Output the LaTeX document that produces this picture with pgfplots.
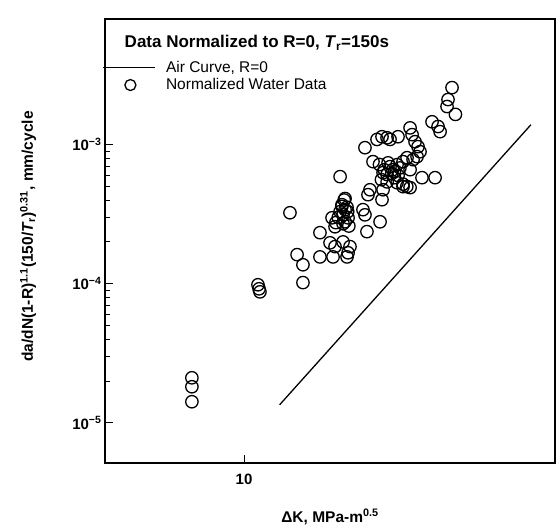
\documentclass[border=0pt]{standalone}
\usepackage{pgfplots}
\pgfplotsset{compat=1.18}
\usepackage{fontspec}
\setmainfont{Liberation Sans}
\begin{document}
\begin{tikzpicture}
\useasboundingbox (-105pt,-66pt) rectangle (454pt,463pt);
\begin{axis}[
  at={(0pt,0pt)}, anchor=south west,
  scale only axis, width=450pt, height=444pt,
  xmode=log, ymode=log,
  xmin=4.91, xmax=49.1, ymin=5.15e-6, ymax=8e-3,
  xtick={10}, xticklabels={\textbf{10}},
  ytick={1e-5,1e-4,1e-3},
  yticklabels={\textbf{10\textsuperscript{−5}},\textbf{10\textsuperscript{−4}},\textbf{10\textsuperscript{−3}}},
  tick pos=left, tick align=inside,
  major tick length=8pt, minor tick length=5pt,
  every tick/.style={black, line width=1pt},
  axis line style={line width=1.6pt},
  ticklabel style={font=\fontsize{15}{17}\selectfont},
  xticklabel style={yshift=-7pt},
  xlabel={\textbf{ΔK, MPa-m\textsuperscript{0.5}}},
  ylabel={\textbf{da/dN(1-R)\textsuperscript{1.1}(150/\textit{T}\textsubscript{r})\textsuperscript{0.31}, mm/cycle}},
  xlabel style={font=\fontsize{15.5}{17}\selectfont, at={(axis description cs:0.5,-0.1216)}, anchor=center},
  ylabel style={font=\fontsize{15.5}{17}\selectfont, at={(axis description cs:-0.171,0.51)}, anchor=center},
  legend style={draw=none, fill=none, at={(axis description cs:-0.012,0.915)}, anchor=north west,
    font=\fontsize{15.5}{17}\selectfont, row sep=1pt},
  legend cell align=left,
]
\addplot[black, line width=1.3pt,
  legend image code/.code={\draw[line width=1.2pt] (0pt,0pt) -- (52pt,0pt);}]
  coordinates {(12.0,1.35e-5) (43.4,1.39e-3)};
\addlegendentry{Air Curve, R=0}
\addplot[only marks, mark=o, mark size=6.2pt, black, line width=1.3pt,
  legend image code/.code={\draw[line width=1.3pt] (27pt,0pt) circle (5.5pt); \path (60pt,0pt);}]
  coordinates {
  (28.99,2.57e-3) (28.40,2.11e-3) (28.26,1.88e-3) (29.5,1.65e-3)
  (26.17,1.46e-3) (26.99,1.35e-3) (27.27,1.24e-3)
  (23.39,1.32e-3)
  (20.26,1.14e-3) (20.79,1.12e-3) (19.75,1.09e-3) (21.11,1.09e-3) (21.99,1.14e-3)
  (18.57,9.51e-4)
  (23.63,1.18e-3) (23.99,1.05e-3) (24.36,9.67e-4) (24.61,8.90e-4) (24.24,8.20e-4) (23.75,7.80e-4)
  (19.35,7.55e-4)
  (16.35,5.89e-4)
  (20.37,6.29e-4) (21.11,6.95e-4) (21.88,7.18e-4) (22.56,7.55e-4) (23.03,8.06e-4)
  (20.79,6.1e-4) (21.4,6.6e-4) (22.2,6.8e-4) (21.6,5.79e-4)
  (20.0,7.2e-4) (20.5,6.6e-4) (20.9,7.4e-4) (21.3,6.2e-4) (20.2,5.6e-4) (20.8,5.4e-4) (21.6,6.4e-4) (22.0,6.0e-4)
  (23.39,6.61e-4)
  (24.86,5.79e-4) (26.58,5.79e-4)
  (21.88,5.33e-4) (22.56,4.99e-4) (23.39,4.91e-4) (22.56,5.2e-4) (23.0,5.0e-4)
  (19.05,4.74e-4) (18.86,4.37e-4)
  (20.26,4.02e-4) (20.37,4.74e-4)
  (12.65,3.24e-4)
  (16.51,3.70e-4) (16.77,3.41e-4) (16.60,3.13e-4) (17.03,2.98e-4) (16.77,2.79e-4)
  (16.35,3.3e-4) (16.94,3.55e-4) (16.7,4.0e-4)
  (16.77,4.1e-4) (16.5,3.6e-4) (17.0,3.3e-4) (16.2,3.0e-4) (16.6,2.7e-4) (17.1,2.6e-4) (16.0,2.75e-4)
  (15.69,2.98e-4) (15.93,2.57e-4)
  (18.38,3.41e-4) (18.57,3.13e-4)
  (20.06,2.79e-4)
  (18.76,2.37e-4)
  (14.75,2.33e-4)
  (15.53,1.97e-4) (15.93,1.85e-4) (16.60,2.00e-4)
  (17.20,1.85e-4) (17.03,1.67e-4)
  (13.12,1.62e-4) (13.52,1.37e-4)
  (14.75,1.56e-4) (15.77,1.56e-4) (16.94,1.56e-4)
  (13.52,1.02e-4)
  (10.74,9.84e-5) (10.85,8.75e-5) (10.8,9.2e-5)
  (7.66,2.11e-5) (7.66,1.82e-5) (7.66,1.42e-5)
  };
\addlegendentry{Normalized Water Data}
\node[anchor=west, font=\fontsize{17}{19}\selectfont\bfseries] at (axis description cs:0.036,0.946)
  {Data Normalized to R=0, \textit{T}\textsubscript{r}=150s};
\end{axis}
\end{tikzpicture}
\end{document}
